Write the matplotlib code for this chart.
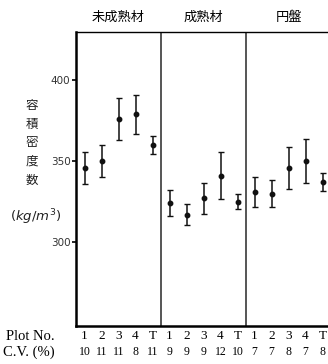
import matplotlib
matplotlib.use("Agg")
import matplotlib.pyplot as plt

# panels of the chart
groups = ["未成熟材", "成熟材", "円盤"]
plot_no = ["1", "2", "3", "4", "T"]

# mean bulk density (kg/m3) and half range of error bars, per panel
means = [
    [346, 350, 376, 379, 360],
    [324, 317, 327, 341, 325],
    [331, 330, 346, 350, 337],
]
errs = [
    [10, 10, 13, 12, 5.5],
    [8, 6.7, 9.5, 14.5, 4.7],
    [9.5, 8.6, 13, 13.7, 5.5],
]
cv = ["10", "11", "11", "8", "11", "9", "9", "9", "12", "10", "7", "7", "8", "7", "8"]

jp = ["Noto Sans CJK JP", "DejaVu Sans"]
serif = "Liberation Serif"

fig = plt.figure(figsize=(3.28, 3.64), dpi=100)
W, H = 328, 364
ax = fig.add_axes([76 / W, 1 - 326 / H, 255 / W, 294 / H])

ax.set_xlim(0, 15)
ax.set_ylim(248, 430)

xs_all = []
for g in range(3):
    xs = [g * 5 + i + 0.5 for i in range(5)]
    xs_all += xs
    ax.errorbar(xs, means[g], yerr=errs[g], fmt="o", color="#111111",
                ms=3.2, elinewidth=1.1, capsize=2.2, capthick=1.0)
    if g > 0:
        ax.axvline(g * 5, color="#555555", lw=1.4)
    ax.text((g * 5 + 2.5) / 15, 1 + 15 / 294, groups[g], transform=ax.transAxes,
            ha="center", va="center", fontsize=9.5, family=jp)

ax.spines["right"].set_visible(False)
ax.spines["left"].set_linewidth(1.8)
ax.spines["bottom"].set_linewidth(1.8)
ax.spines["top"].set_linewidth(1.0)

ax.set_yticks([300, 350, 400])
ax.set_yticklabels(["300", "350", "400"], fontsize=7.5, color="#333333")
ax.tick_params(axis="y", direction="out", length=3, width=1.2, pad=1)
ax.set_xticks([])

# vertical y label
ylab = ["容", "積", "密", "度", "数"]
for i, ch in enumerate(ylab):
    fig.text(32 / W, 1 - (106 + i * 18.5) / H, ch, ha="center", va="center",
             fontsize=9, family=jp, color="#222222")
fig.text(36 / W, 1 - 217 / H, r"$\mathrm{(}kg/m^3\mathrm{)}$", ha="center", va="center",
         fontsize=9.5, color="#222222")

# bottom rows
fig.text(6 / W, 1 - 336 / H, "Plot No.", ha="left", va="center",
         fontsize=10.5, family=serif)
fig.text(3 / W, 1 - 352 / H, "C.V. (%)", ha="left", va="center",
         fontsize=10.5, family=serif)
for j, x in enumerate(xs_all):
    ax.text(x, -10 / 294, plot_no[j % 5], transform=ax.get_xaxis_transform(),
            ha="center", va="center", fontsize=9.5, family=serif)
    ax.text(x, -26 / 294, cv[j], transform=ax.get_xaxis_transform(),
            ha="center", va="center", fontsize=8.5, family=serif)

fig.savefig("out.png", dpi=100)
